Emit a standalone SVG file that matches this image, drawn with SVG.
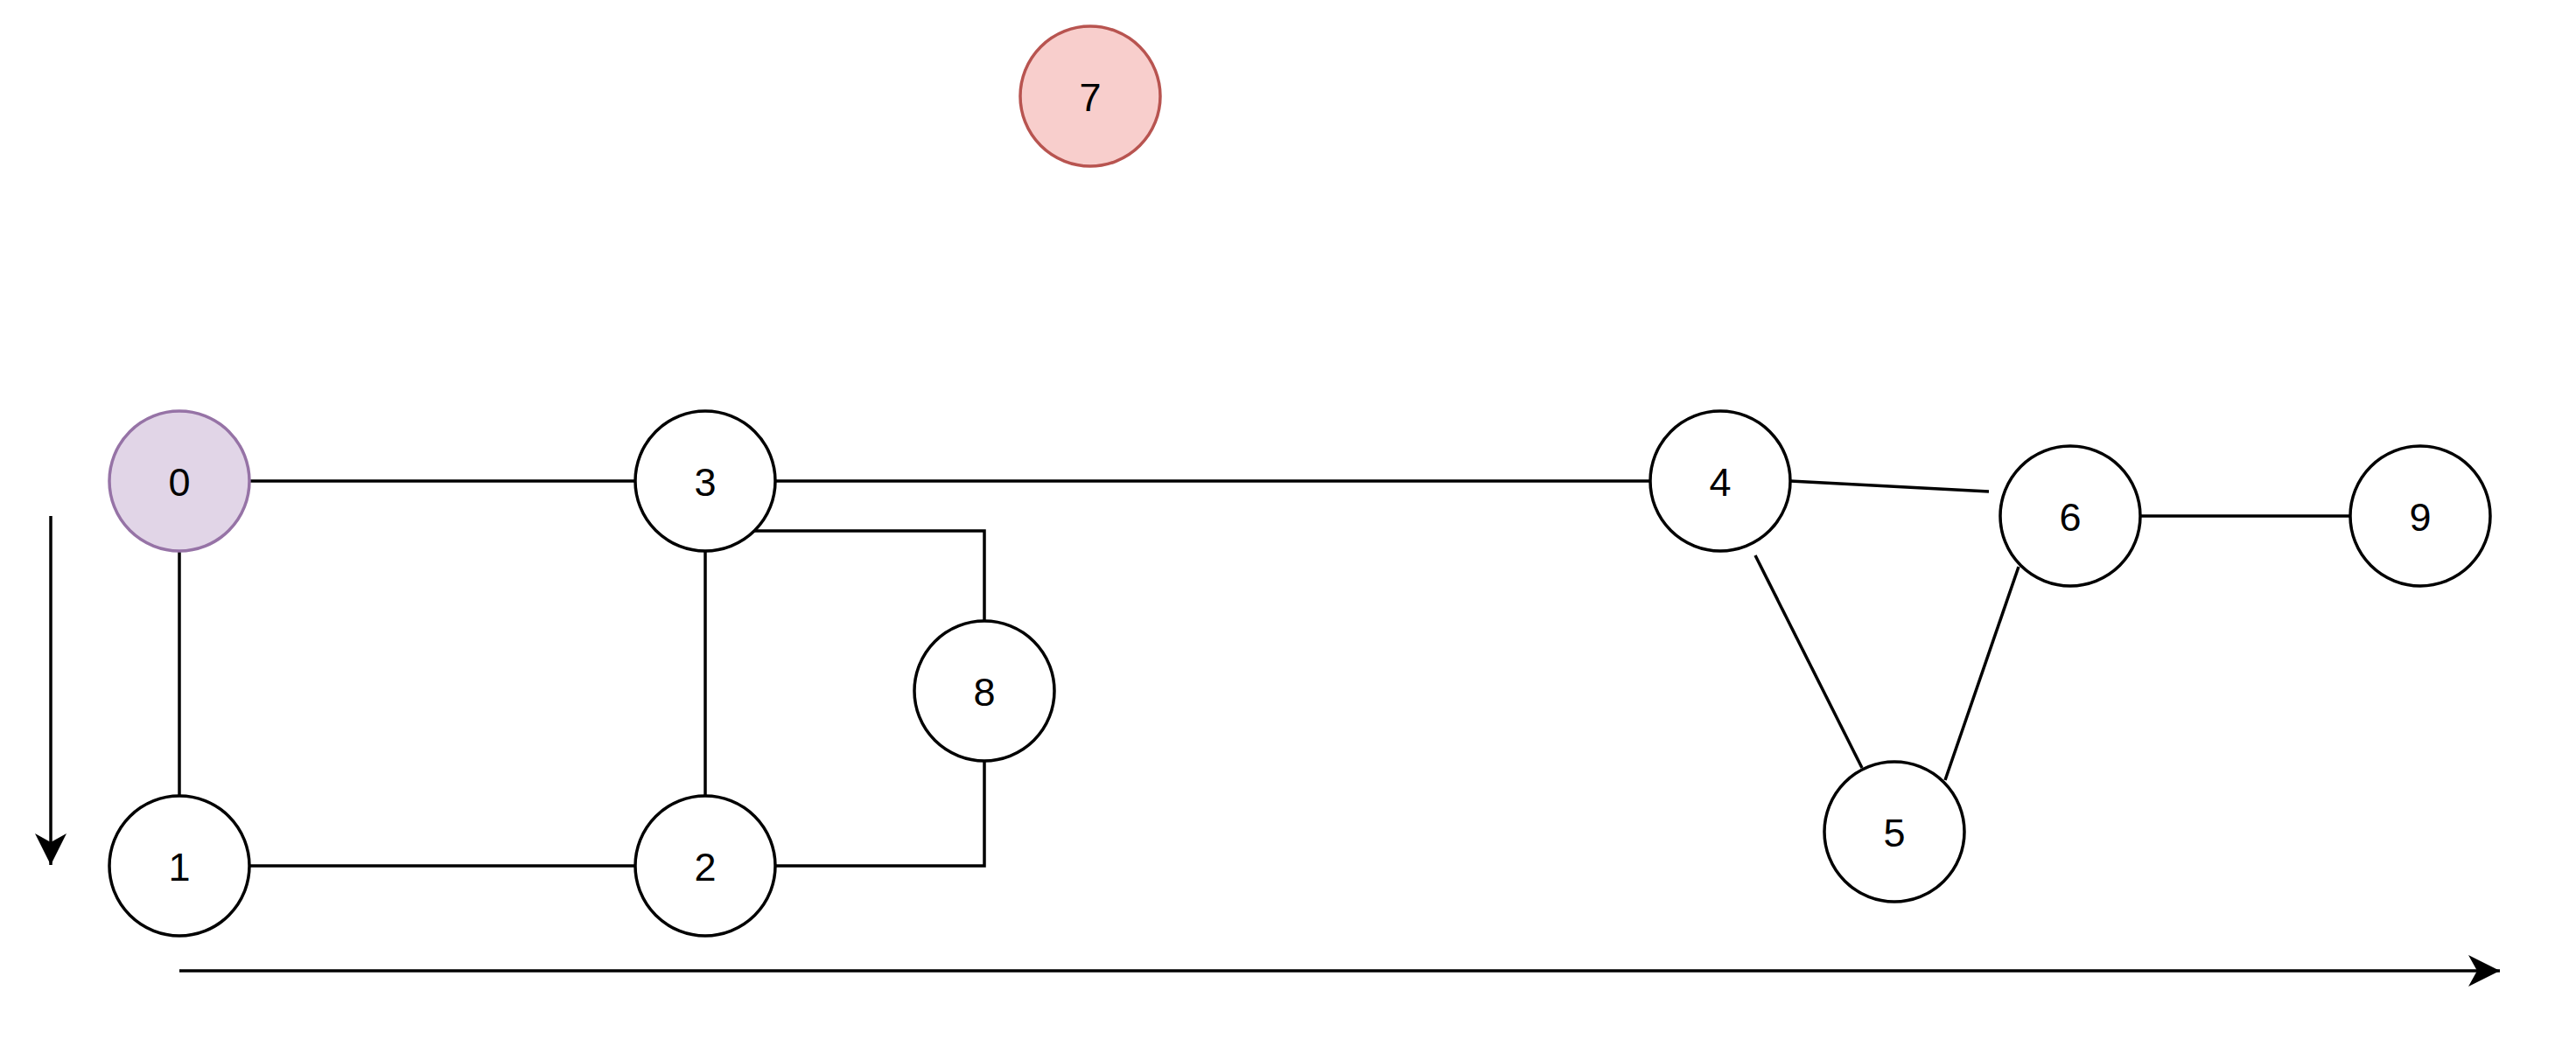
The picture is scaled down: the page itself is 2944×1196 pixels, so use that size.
<svg xmlns="http://www.w3.org/2000/svg" width="2944" height="1196" viewBox="0 0 2944 1196">
<style>
.n{fill:#ffffff;stroke:#000000;stroke-width:3.5}
.t{font-family:"Liberation Sans",Arial,sans-serif;font-size:45px;fill:#000000;text-anchor:middle}
.e{fill:none;stroke:#000000;stroke-width:3.5}
</style>
<defs>
<marker id="arr" markerUnits="userSpaceOnUse" markerWidth="40" markerHeight="40" viewBox="0 0 40 40" refX="36" refY="18" orient="auto">
<path d="M0,0 L36,18 L0,36 L10,18 Z" fill="#000000"/>
</marker>
</defs>
<rect width="2944" height="1196" fill="#ffffff"/>
<g id="connectors">
<line class="e" x1="285" y1="550" x2="726" y2="550"/>
<line class="e" x1="205" y1="630" x2="205" y2="910"/>
<line class="e" x1="285" y1="990" x2="726" y2="990"/>
<line class="e" x1="806" y1="630" x2="806" y2="910"/>
<polyline class="e" points="862,607 1125,607 1125,710"/>
<polyline class="e" points="886,990 1125,990 1125,870"/>
<line class="e" x1="886" y1="550" x2="1886" y2="550"/>
<line class="e" x1="2046" y1="550" x2="2273" y2="562"/>
<line class="e" x1="2006" y1="635" x2="2128" y2="878"/>
<line class="e" x1="2307" y1="648" x2="2223" y2="892"/>
<line class="e" x1="2446" y1="590" x2="2686" y2="590"/>
<line class="e" x1="58" y1="590" x2="58" y2="989" marker-end="url(#arr)"/>
<line class="e" x1="205" y1="1110" x2="2857" y2="1110" marker-end="url(#arr)"/>
</g>
<g id="node0"><circle cx="205" cy="550" r="80" fill="#e1d5e7" stroke="#9673a6" stroke-width="3.5"/><text class="t" x="205" y="567">0</text></g>
<g id="node1"><circle class="n" cx="205" cy="990" r="80"/><text class="t" x="205" y="1007">1</text></g>
<g id="node2"><circle class="n" cx="806" cy="990" r="80"/><text class="t" x="806" y="1007">2</text></g>
<g id="node3"><circle class="n" cx="806" cy="550" r="80"/><text class="t" x="806" y="567">3</text></g>
<g id="node4"><circle class="n" cx="1966" cy="550" r="80"/><text class="t" x="1966" y="567">4</text></g>
<g id="node5"><circle class="n" cx="2165" cy="951" r="80"/><text class="t" x="2165" y="968">5</text></g>
<g id="node6"><circle class="n" cx="2366" cy="590" r="80"/><text class="t" x="2366" y="607">6</text></g>
<g id="node7"><circle cx="1246" cy="110" r="80" fill="#f8cecc" stroke="#b85450" stroke-width="3.5"/><text class="t" x="1246" y="127">7</text></g>
<g id="node8"><circle class="n" cx="1125" cy="790" r="80"/><text class="t" x="1125" y="807">8</text></g>
<g id="node9"><circle class="n" cx="2766" cy="590" r="80"/><text class="t" x="2766" y="607">9</text></g>
</svg>
